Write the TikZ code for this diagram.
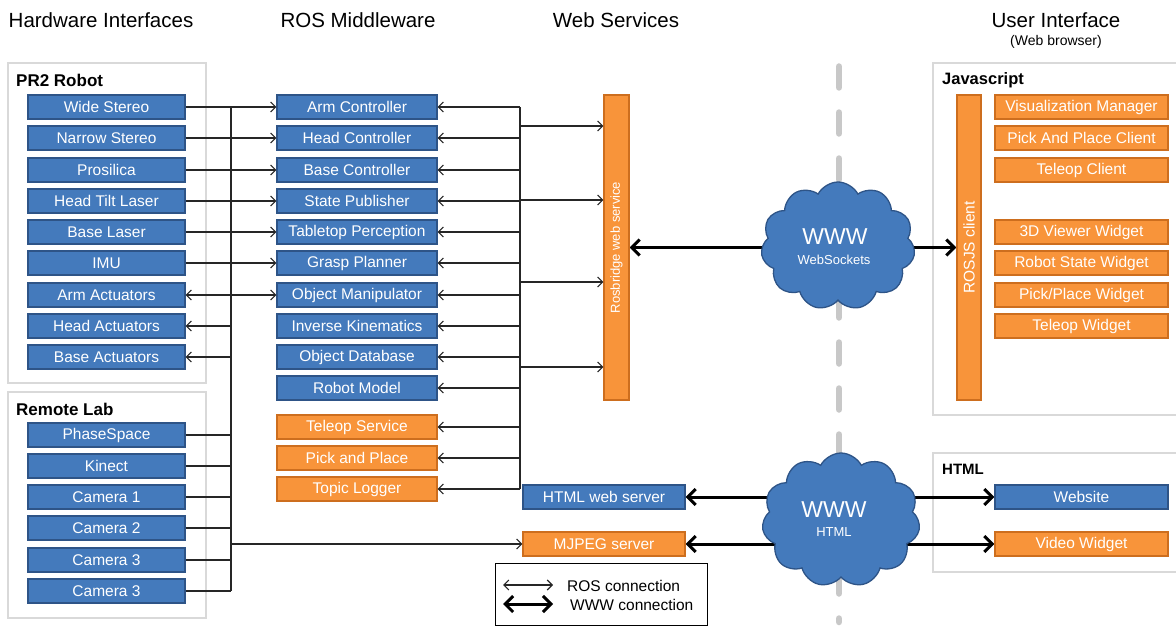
\documentclass[tikz,border=0pt]{standalone}
\usepackage{fontspec}
\setmainfont{Liberation Sans}
\usetikzlibrary{arrows.meta,shapes.symbols,backgrounds,calc}
\definecolor{bfill}{RGB}{68,122,188}
\definecolor{bdraw}{RGB}{46,84,135}
\definecolor{ofill}{RGB}{248,148,58}
\definecolor{odraw}{RGB}{205,110,30}
\definecolor{panelc}{RGB}{217,217,217}
\definecolor{dashg}{RGB}{200,200,200}
\newcommand{\fs}[1]{\fontsize{#1}{#1}\selectfont}
\tikzset{
  boxbase/.style={rectangle, line width=1.2pt, text=white, inner sep=0pt,
    minimum height=24pt, font=\fs{15.5}},
  bbox/.style={boxbase, fill=bfill, draw=bdraw},
  obox/.style={boxbase, fill=ofill, draw=odraw},
  lw/.style={minimum width=157pt},
  mw/.style={minimum width=160pt},
  rw/.style={minimum width=173pt},
  sw/.style={minimum width=162pt},
  barbox/.style={rectangle, line width=1.2pt, fill=ofill, draw=odraw,
    minimum width=25pt, minimum height=305pt, inner sep=0pt},
  bartext/.style={rotate=90, text=white, inner sep=0pt},
  ros/.style={line width=1.1pt, draw=black!85, >={Straight Barb[length=5pt,width=10pt]}},
  www/.style={line width=3pt, draw=black, >={Straight Barb[length=8pt,width=16pt]}},
  paneld/.style={draw=panelc, line width=2pt},
  ptitle/.style={anchor=west, font=\bfseries\fs{17}, inner sep=0pt},
  header/.style={font=\fs{20.5}, inner sep=0pt},
  cloudbox/.style={cloud, cloud puffs=11, cloud puff arc=125, aspect=1.15,
    fill=bfill, draw=bdraw, line width=1.3pt, inner sep=0pt},
  cloudbig/.style={text=white, font=\fs{23}, inner sep=0pt},
  cloudsmall/.style={text=white, font=\fs{13}, inner sep=0pt},
  legtext/.style={anchor=west, font=\fs{15.5}, inner sep=0pt},
  dashline/.style={draw=dashg, line width=6.5pt, line cap=round, dash pattern=on 21pt off 25pt}
}
\begin{document}
\begin{tikzpicture}[x=1pt,y=-1pt]
\useasboundingbox (0,0) rectangle (1176,626);

% headers
\node[header] (h1) at (101,20) {Hardware Interfaces};
\node[header] (h2) at (358,20) {ROS Middleware};
\node[header] (h3) at (616,20) {Web Services};
\node[header] (h4) at (1056,20) {User Interface};
\node[font=\fs{14}, inner sep=0pt] (h5) at (1056,42) {(Web browser)};

% panels
\begin{pgfonlayer}{background}
\draw[paneld] (8,63) rectangle (206,383);
\draw[paneld] (8,392) rectangle (206,618);
\draw[paneld] (933,63) rectangle (1180,415);
\draw[paneld] (933,453) rectangle (1180,572);
\coordinate (dtop) at (839,66.5);
\coordinate (dbot) at (839,622);
\draw[dashline] (dtop) -- (dbot);
\end{pgfonlayer}

\node[ptitle] (t1) at (16,80) {PR2 Robot};
\node[ptitle] (t2) at (16,409) {Remote Lab};
\node[ptitle, font=\bfseries\fs{16.5}] (t3) at (942,80) {Javascript};
\node[ptitle, font=\bfseries\fs{15}] (t4) at (942,469) {HTML};

% hardware
\node[bbox,lw] (ws)  at (106.5,107) {Wide Stereo};
\node[bbox,lw] (ns)  at (106.5,138) {Narrow Stereo};
\node[bbox,lw] (pro) at (106.5,170) {Prosilica};
\node[bbox,lw] (htl) at (106.5,201) {Head Tilt Laser};
\node[bbox,lw] (bl)  at (106.5,232) {Base Laser};
\node[bbox,lw] (imu) at (106.5,263) {IMU};
\node[bbox,lw] (aa)  at (106.5,295) {Arm Actuators};
\node[bbox,lw] (ha)  at (106.5,326) {Head Actuators};
\node[bbox,lw] (ba)  at (106.5,357) {Base Actuators};
\node[bbox,lw] (ps)  at (106.5,435) {PhaseSpace};
\node[bbox,lw] (kin) at (106.5,466) {Kinect};
\node[bbox,lw] (c1)  at (106.5,497) {Camera 1};
\node[bbox,lw] (c2)  at (106.5,528) {Camera 2};
\node[bbox,lw] (c3)  at (106.5,560) {Camera 3};
\node[bbox,lw] (c4)  at (106.5,591) {Camera 3};

% middleware
\node[bbox,mw] (arm)   at (357,107) {Arm Controller};
\node[bbox,mw] (head)  at (357,138) {Head Controller};
\node[bbox,mw] (base)  at (357,170) {Base Controller};
\node[bbox,mw] (state) at (357,201) {State Publisher};
\node[bbox,mw] (table) at (357,232) {Tabletop Perception};
\node[bbox,mw] (grasp) at (357,263) {Grasp Planner};
\node[bbox,mw] (objm)  at (357,295) {Object Manipulator};
\node[bbox,mw] (ik)    at (357,326) {Inverse Kinematics};
\node[bbox,mw] (odb)   at (357,357) {Object Database};
\node[bbox,mw] (rm)    at (357,388) {Robot Model};
\node[obox,mw] (tel)   at (357,427) {Teleop Service};
\node[obox,mw] (pnp)   at (357,458) {Pick and Place};
\node[obox,mw] (tl)    at (357,489) {Topic Logger};

% web services
\node[barbox] (rosb) at (616.5,247.5) {};
\node[bartext, font=\fs{13}] (rosbt) at (rosb.center) {Rosbridge web service};
\node[bbox,sw] (hws)   at (604,497) {HTML web server};
\node[obox,sw] (mjpeg) at (604,544) {MJPEG server};

% clouds
\node[cloudbox, minimum width=154pt, minimum height=128pt] (cl1) at (838,246) {};
\node[cloudbig] (cl1a) at (835,237) {WWW};
\node[cloudsmall] (cl1b) at (834,260) {WebSockets};
\node[cloudbox, minimum width=158pt, minimum height=134pt] (cl2) at (841,520) {};
\node[cloudbig] (cl2a) at (834,510) {WWW};
\node[cloudsmall] (cl2b) at (834,532) {HTML};

% user interface
\node[barbox, minimum width=24pt] (rosjs) at (969,247.5) {};
\node[bartext, font=\fs{15.5}] (rosjst) at (rosjs.center) {ROSJS client};
\node[obox,rw] (vm)  at (1081.5,107) {Visualization Manager};
\node[obox,rw] (pap) at (1081.5,138) {Pick And Place Client};
\node[obox,rw] (tc)  at (1081.5,170) {Teleop Client};
\node[obox,rw] (v3d) at (1081.5,232) {3D Viewer Widget};
\node[obox,rw] (rsw) at (1081.5,263) {Robot State Widget};
\node[obox,rw] (ppw) at (1081.5,295) {Pick/Place Widget};
\node[obox,rw] (tw)  at (1081.5,326) {Teleop Widget};
\node[bbox,rw] (web) at (1081.5,497) {Website};
\node[obox,rw] (vw)  at (1081.5,544) {Video Widget};

% WWW connections (behind clouds)
\begin{pgfonlayer}{background}
\draw[www,->] (cl1.center |- rosb.east) -- (rosb.east);
\draw[www,->] (cl1.center |- rosjs.west) -- (rosjs.west);
\draw[www,->] (cl2.center |- hws.east) -- (hws.east);
\draw[www,->] (cl2.center |- mjpeg.east) -- (mjpeg.east);
\draw[www,->] (cl2.center |- web.west) -- (web.west);
\draw[www,->] (cl2.center |- vw.west) -- (vw.west);
\end{pgfonlayer}

% left bus
\coordinate (lbt) at (231,107);
\coordinate (lbb) at (231,591);
\draw[ros] (lbt) -- (lbb);
\draw[ros,->] (ws) -- (arm);
\draw[ros,->] (ns) -- (head);
\draw[ros,->] (pro) -- (base);
\draw[ros,->] (htl) -- (state);
\draw[ros,->] (bl) -- (table);
\draw[ros,->] (imu) -- (grasp);
\draw[ros,<->] (aa) -- (objm);
\draw[ros,<-] (ha.east) -- (ha.east -| lbt);
\draw[ros,<-] (ba.east) -- (ba.east -| lbt);
\foreach \n in {ps,kin,c1,c2,c3,c4} {\draw[ros] (\n.east) -- (\n.east -| lbt);}
\draw[ros,->] (mjpeg.west -| lbt) -- (mjpeg.west);

% right bus
\coordinate (rbt) at (520,107);
\coordinate (rbb) at (520,489);
\draw[ros] (rbt) -- (rbb);
\foreach \n in {arm,head,base,state,table,grasp,objm,ik,odb,rm,tel,pnp,tl} {\draw[ros,<-] (\n.east) -- (\n.east -| rbt);}
\coordinate (rb1) at (520,126);
\coordinate (rb2) at (520,200);
\coordinate (rb3) at (520,282);
\coordinate (rb4) at (520,367);
\foreach \c in {rb1,rb2,rb3,rb4} {\draw[ros,->] (\c) -- (\c -| rosb.west);}

% legend
\draw[line width=1pt] (495,563) rectangle (707,625);
\coordinate (la1) at (503,585);
\coordinate (la2) at (553,585);
\coordinate (lb1) at (503,604);
\coordinate (lb2) at (553,604);
\draw[ros,<->] (la1) -- (la2);
\draw[www,<->] (lb1) -- (lb2);
\node[legtext] (lt1) at (567,586) {ROS connection};
\node[legtext] (lt2) at (570,605) {WWW connection};
\end{tikzpicture}
\end{document}
